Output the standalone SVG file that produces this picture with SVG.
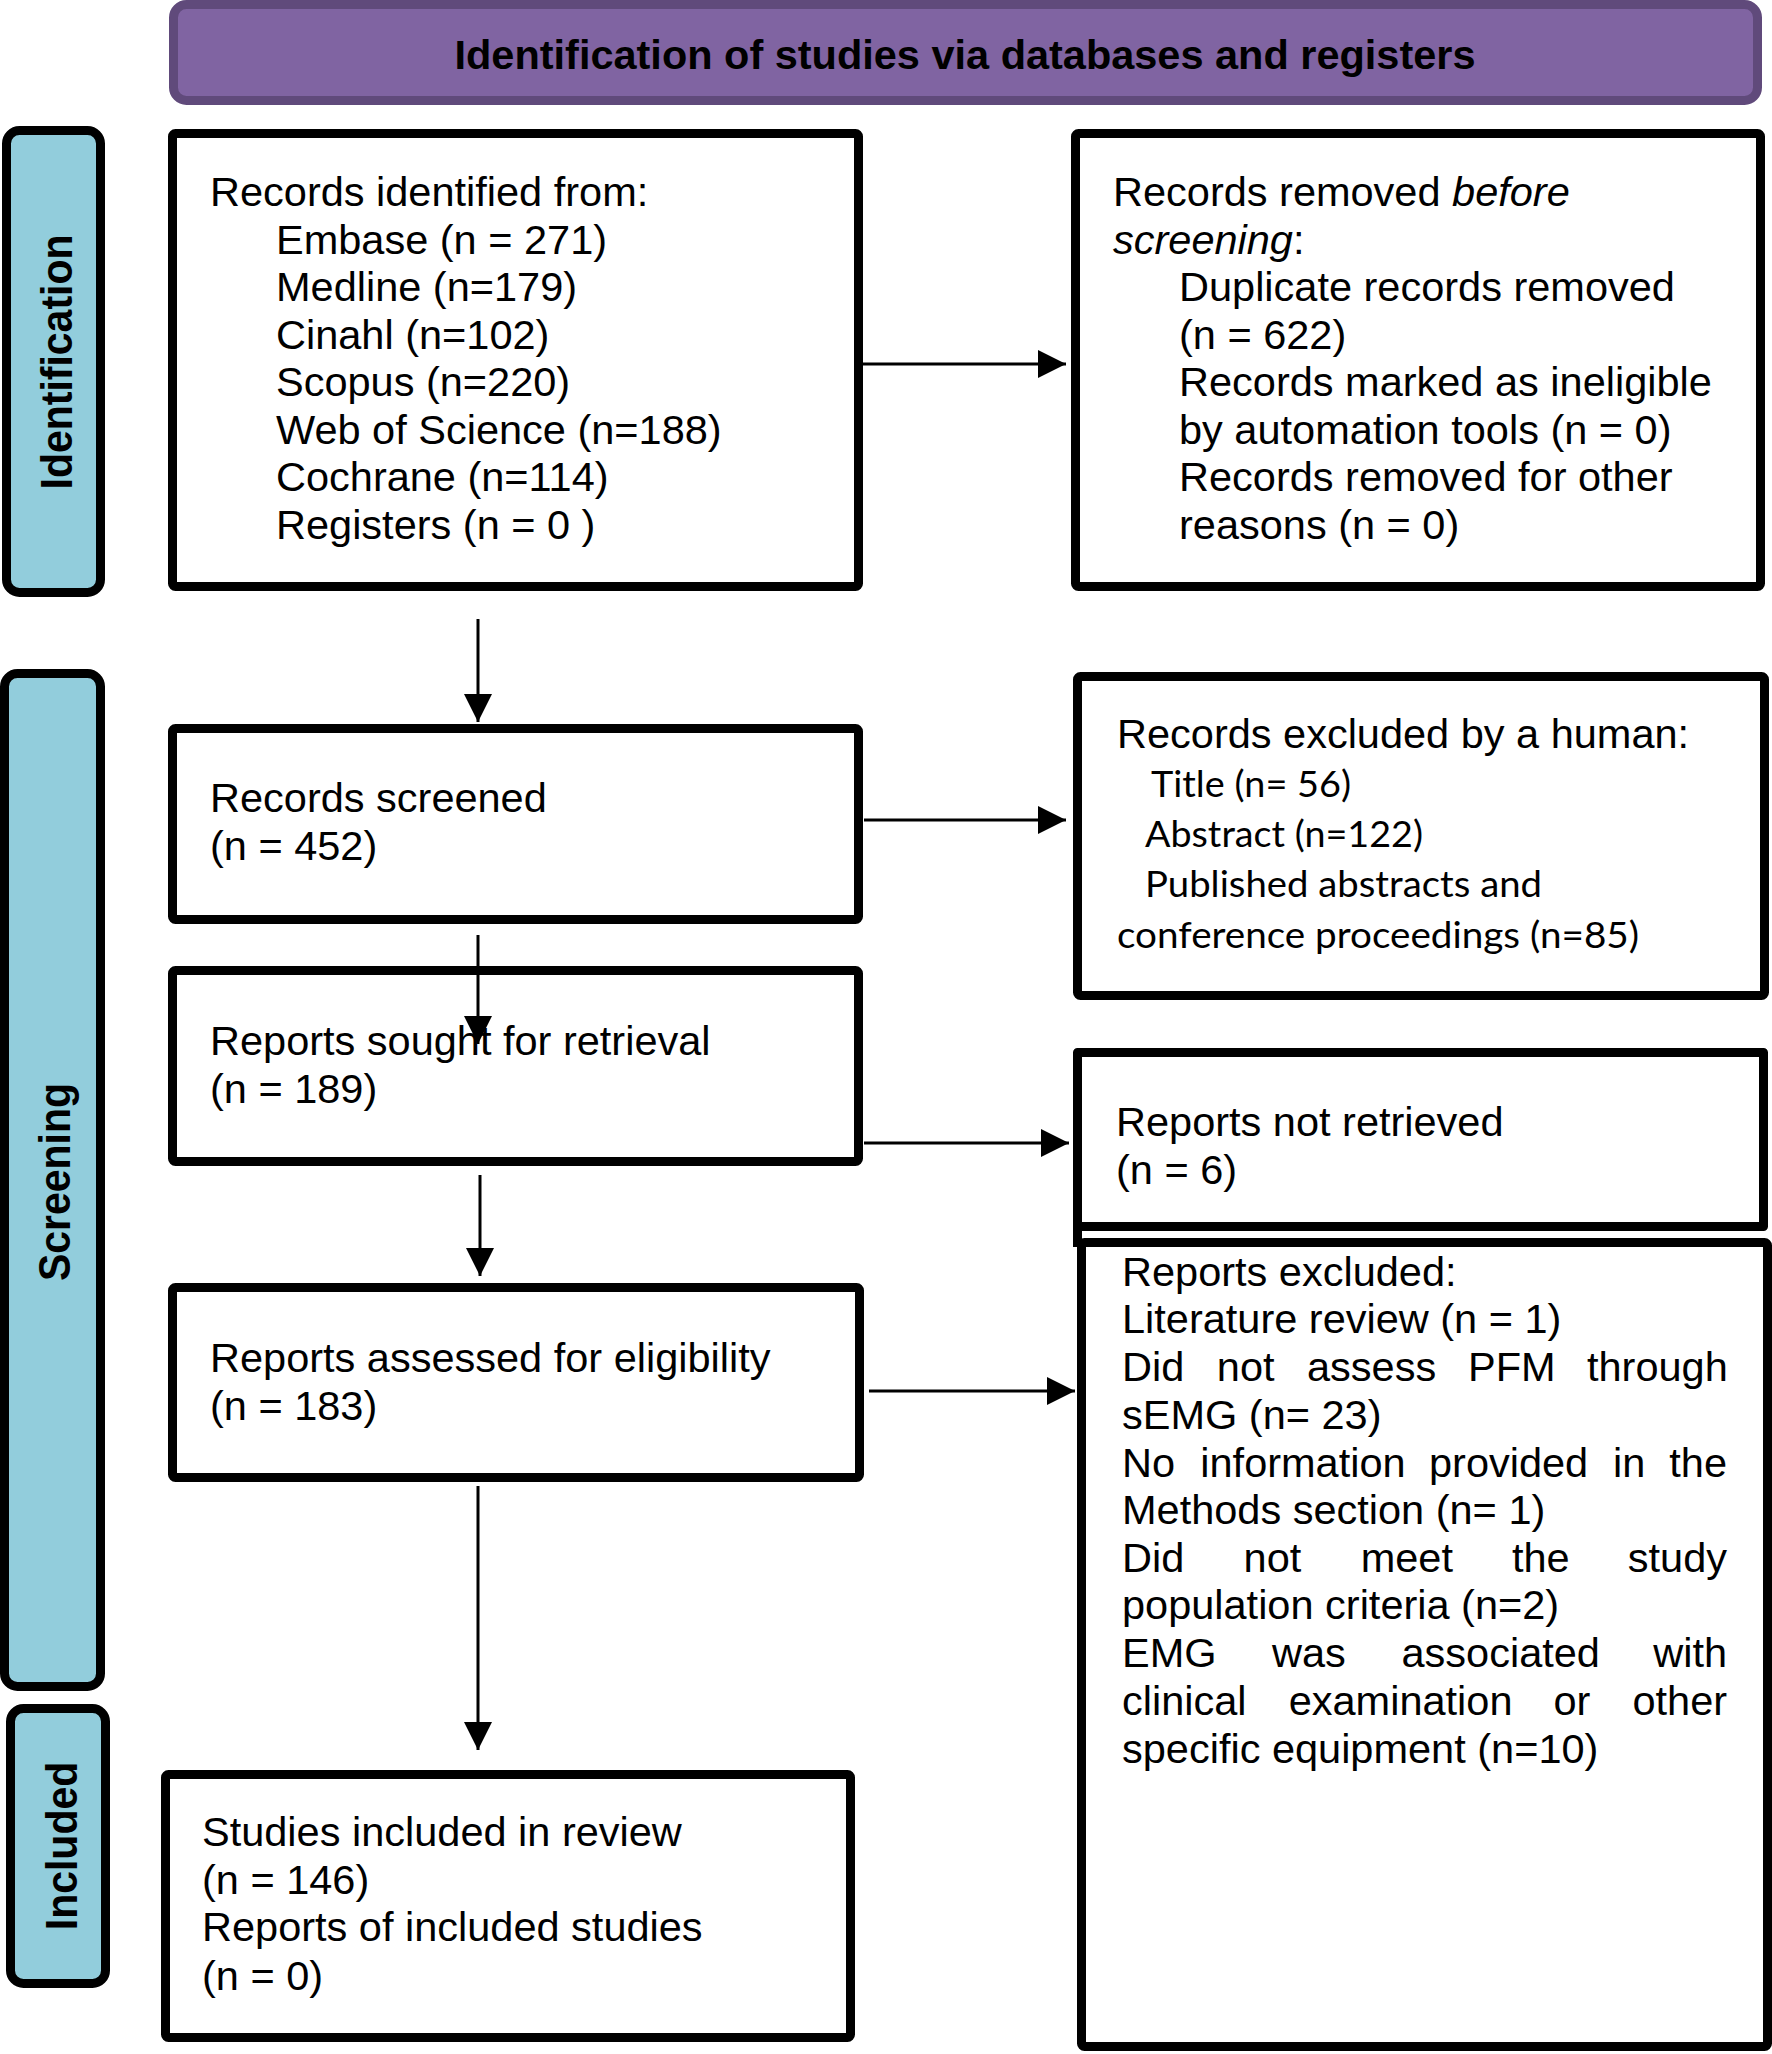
<svg xmlns="http://www.w3.org/2000/svg" width="1772" height="2054" viewBox="0 0 1772 2054">
<style>
.box{fill:#fff;stroke:#000;stroke-width:9;stroke-linejoin:round}
.side{fill:#92CDDC;stroke:#000;stroke-width:9}
.t{font-family:"Liberation Sans",Arial,sans-serif;font-size:41.5px;fill:#000}
.c{font-family:Lato,"Noto Sans",sans-serif;font-size:36px;fill:#000}
.lab{font-family:"Liberation Sans",Arial,sans-serif;font-size:41px;font-weight:bold;fill:#000;text-anchor:middle}
.conn{stroke:#000;stroke-width:3;fill:none;marker-end:url(#ah)}
</style>
<defs>
<marker id="ah" markerUnits="userSpaceOnUse" markerWidth="28" markerHeight="28" refX="28" refY="14" orient="auto">
<path d="M0,0 L28,14 L0,28 Z" fill="#000"/>
</marker>
</defs>
<rect width="1772" height="2054" fill="#fff"/>

<g id="header">
<rect x="173.5" y="4.5" width="1584" height="96" rx="13" fill="#8064A2" stroke="#604A7B" stroke-width="9"/>
<text x="965" y="69" font-family="'Liberation Sans',Arial,sans-serif" font-size="41" font-weight="bold" text-anchor="middle" textLength="1021" lengthAdjust="spacingAndGlyphs">Identification of studies via databases and registers</text>
</g>

<g id="lane-identification">
<rect class="side" x="6.5" y="130.5" width="94" height="462" rx="13"/>
<text class="lab" transform="translate(72,362) rotate(-90) scale(1,1.08)">Identification</text>
</g>
<g id="lane-screening">
<rect class="side" x="4.5" y="673.5" width="96" height="1013" rx="13"/>
<text class="lab" transform="translate(70,1182) rotate(-90) scale(1,1.08)">Screening</text>
</g>
<g id="lane-included">
<rect class="side" x="10.5" y="1708.5" width="95" height="275" rx="13"/>
<text class="lab" transform="translate(77,1846) rotate(-90) scale(1,1.08)">Included</text>
</g>

<g id="records-identified">
<rect class="box" x="172.5" y="133.5" width="686" height="453" rx="3"/>
<text class="t" x="210" y="206">Records identified from:</text>
<text class="t" x="276" y="253.5">Embase (n = 271)</text>
<text class="t" x="276" y="301">Medline (n=179)</text>
<text class="t" x="276" y="348.5">Cinahl (n=102)</text>
<text class="t" x="276" y="396">Scopus (n=220)</text>
<text class="t" x="276" y="443.5">Web of Science (n=188)</text>
<text class="t" x="276" y="491">Cochrane (n=114)</text>
<text class="t" x="276" y="538.5">Registers (n = 0 )</text>
</g>

<g id="records-removed">
<rect class="box" x="1075.5" y="133.5" width="685" height="453" rx="3"/>
<text class="t" x="1113" y="206">Records removed <tspan font-style="italic">before</tspan></text>
<text class="t" x="1113" y="253.5"><tspan font-style="italic">screening</tspan>:</text>
<text class="t" x="1179" y="301">Duplicate records removed</text>
<text class="t" x="1179" y="348.5">(n = 622)</text>
<text class="t" x="1179" y="396">Records marked as ineligible</text>
<text class="t" x="1179" y="443.5">by automation tools (n = 0)</text>
<text class="t" x="1179" y="491">Records removed for other</text>
<text class="t" x="1179" y="538.5">reasons (n = 0)</text>
</g>

<g id="records-screened">
<rect class="box" x="172.5" y="728.5" width="686" height="191" rx="3"/>
<text class="t" x="210" y="812">Records screened</text>
<text class="t" x="210" y="860">(n = 452)</text>
</g>

<g id="records-excluded">
<rect class="box" x="1077.5" y="676.5" width="687" height="319" rx="3"/>
<text class="t" x="1117" y="748">Records excluded by a human:</text>
<text class="c" x="1151" y="797" textLength="200" lengthAdjust="spacingAndGlyphs">Title (n= 56)</text>
<text class="c" x="1145" y="847" textLength="278" lengthAdjust="spacingAndGlyphs">Abstract (n=122)</text>
<text class="c" x="1145" y="897" textLength="397" lengthAdjust="spacingAndGlyphs">Published abstracts and</text>
<text class="c" x="1117" y="948" textLength="522" lengthAdjust="spacingAndGlyphs">conference proceedings (n=85)</text>
</g>

<g id="reports-sought">
<rect class="box" x="172.5" y="970.5" width="686" height="191" rx="3"/>
<text class="t" x="210" y="1055">Reports sought for retrieval</text>
<text class="t" x="210" y="1103">(n = 189)</text>
</g>

<g id="reports-not-retrieved">
<path class="box" d="M1077.5,1247 V1052.5 H1763.5 V1226.5 H1077.5"/>
<text class="t" x="1116" y="1136">Reports not retrieved</text>
<text class="t" x="1116" y="1184">(n = 6)</text>
</g>

<g id="reports-assessed">
<rect class="box" x="172.5" y="1287.5" width="687" height="190" rx="3"/>
<text class="t" x="210" y="1372">Reports assessed for eligibility</text>
<text class="t" x="210" y="1420">(n = 183)</text>
</g>

<g id="reports-excluded">
<rect class="box" x="1081.5" y="1242.5" width="686" height="804" rx="3"/>
<text class="t" x="1122" y="1286">Reports excluded:</text>
<text class="t" x="1122" y="1333">Literature review (n = 1)</text>
<text class="t" y="1381"><tspan x="1122">Did</tspan><tspan x="1216.8">not</tspan><tspan x="1307">assess</tspan><tspan x="1468">PFM</tspan><tspan x="1587">through</tspan></text>
<text class="t" x="1122" y="1429">sEMG (n= 23)</text>
<text class="t" y="1477"><tspan x="1122">No</tspan><tspan x="1200.3">information</tspan><tspan x="1429">provided</tspan><tspan x="1613">in</tspan><tspan x="1669.3">the</tspan></text>
<text class="t" x="1122" y="1524">Methods section (n= 1)</text>
<text class="t" y="1572"><tspan x="1122">Did</tspan><tspan x="1243.6">not</tspan><tspan x="1360.7">meet</tspan><tspan x="1511.9">the</tspan><tspan x="1627.8">study</tspan></text>
<text class="t" x="1122" y="1619">population criteria (n=2)</text>
<text class="t" y="1667"><tspan x="1122">EMG</tspan><tspan x="1272">was</tspan><tspan x="1401.5">associated</tspan><tspan x="1653.2">with</tspan></text>
<text class="t" y="1715"><tspan x="1122">clinical</tspan><tspan x="1288.7">examination</tspan><tspan x="1553.4">or</tspan><tspan x="1632.5">other</tspan></text>
<text class="t" x="1122" y="1763">specific equipment (n=10)</text>
</g>

<g id="studies-included">
<rect class="box" x="165.5" y="1774.5" width="685" height="263" rx="3"/>
<text class="t" x="202" y="1846">Studies included in review</text>
<text class="t" x="202" y="1894">(n = 146)</text>
<text class="t" x="202" y="1941">Reports of included studies</text>
<text class="t" x="202" y="1990">(n = 0)</text>
</g>

<g id="connectors">
<line class="conn" x1="863" y1="364" x2="1066" y2="364"/>
<line class="conn" x1="478" y1="619" x2="478" y2="722"/>
<line class="conn" x1="864" y1="820" x2="1066" y2="820"/>
<line class="conn" x1="478" y1="935" x2="478" y2="1044"/>
<line class="conn" x1="864" y1="1143" x2="1069" y2="1143"/>
<line class="conn" x1="480" y1="1175" x2="480" y2="1276"/>
<line class="conn" x1="869" y1="1391" x2="1075" y2="1391"/>
<line class="conn" x1="478" y1="1486" x2="478" y2="1750"/>
</g>
</svg>
